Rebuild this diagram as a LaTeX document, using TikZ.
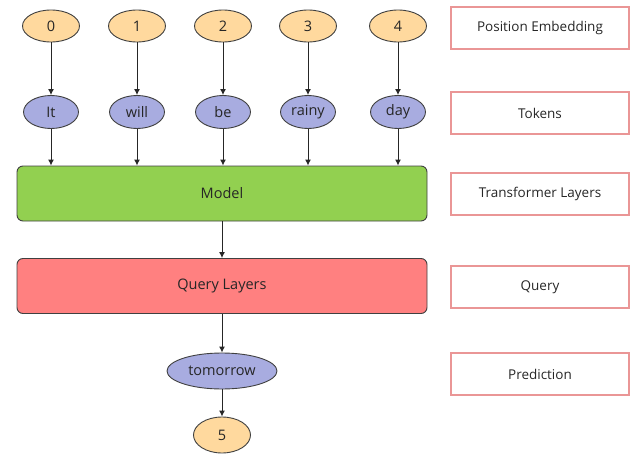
\documentclass[tikz,border=0pt]{standalone}
\usepackage{fontspec}
\setmainfont{Open Sans}
\usetikzlibrary{shapes.geometric, arrows.meta}

\definecolor{posorange}{RGB}{255,217,158}
\definecolor{tokblue}{RGB}{168,172,224}
\definecolor{modelgreen}{RGB}{146,208,80}
\definecolor{queryred}{RGB}{255,128,128}
\definecolor{tagred}{RGB}{234,150,150}

\begin{document}
\begin{tikzpicture}[x=1pt, y=-1pt, >={Latex[length=6pt,width=6pt]},
  every node/.style={font=\fontsize{14.5}{17}\selectfont, text=black!85},
  posnode/.style={ellipse, draw=black!75, line width=0.9pt, fill=posorange, minimum width=57pt, minimum height=32pt, inner sep=0pt},
  toknode/.style={ellipse, draw=black!75, line width=0.9pt, fill=tokblue, minimum width=55pt, minimum height=33pt, inner sep=0pt},
  layer/.style={rectangle, rounded corners=6pt, draw=black!75, line width=0.9pt, minimum width=410pt, minimum height=55pt},
  tag/.style={rectangle, draw=tagred, line width=1.2pt, minimum width=178pt, minimum height=42pt, font=\fontsize{13.5}{16}\selectfont},
  link/.style={->, line width=1pt, black!85}]

\useasboundingbox (0,0) rectangle (633,455);

% inputs: positions and tokens
\foreach \i/\x/\w in {0/51/It, 1/137/will, 2/223/be, 3/308/rainy, 4/398/day} {
  \node[posnode] (p\i) at (\x,26) {\i};
  \node[toknode] (t\i) at (\x,112) {\w};
}

% layers
\node[layer, fill=modelgreen] (model) at (222,193.5) {Model};
\node[layer, fill=queryred] (query) at (222,286) {Query Layers};

% output
\node[toknode, minimum width=110pt, minimum height=36pt] (pred) at (222,371) {tomorrow};
\node[posnode, minimum height=36pt] (p5) at (222,435) {5};

% arrows
\foreach \i in {0,...,4} {
  \draw[link] (p\i) -- (t\i);
  \draw[link] (t\i) -- (t\i |- model.north);
}
\draw[link] (model) -- (query);
\draw[link] (query) -- (pred);
\draw[link] (pred) -- (p5);

% legend on the right
\node[tag] (tagpos) at (540,28) {Position Embedding};
\node[tag] (tagtok) at (540,113) {Tokens};
\node[tag] (tagmodel) at (540,194) {Transformer Layers};
\node[tag] (tagquery) at (540,287) {Query};
\node[tag] (tagpred) at (540,374) {Prediction};
\end{tikzpicture}
\end{document}
